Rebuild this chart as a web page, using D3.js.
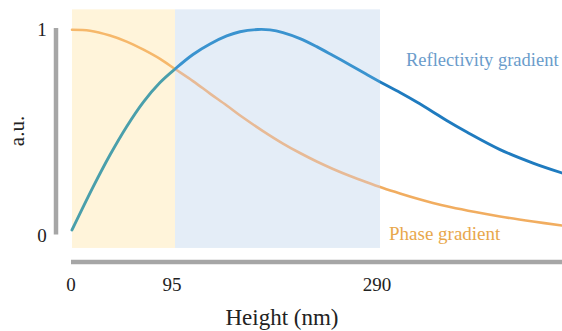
<!DOCTYPE html>
<html>
<head>
<meta charset="utf-8">
<script src="https://cdn.jsdelivr.net/npm/d3@7"></script>
<style>
  html, body { margin: 0; padding: 0; background: #fff; }
  svg { display: block; }
  text { font-family: "Liberation Serif", "DejaVu Serif", serif; }
</style>
</head>
<body>
<svg id="chart" width="562" height="331"></svg>
<script>
// Height in nm, normalised magnitude (a.u.)
const reflectivityHeight = [0, 19.6, 35, 50.5, 65.8, 81.2, 95, 112.1, 128.3, 144.2, 156.8, 173.9, 185.3, 197.7, 213.9, 229.8, 245.3, 261.5, 276.7, 292.9, 309.2, 325.3, 340.9, 354.1, 373.4, 405.4, 437.1, 465];
const reflectivityValue  = [0.005, 0.22, 0.377, 0.519, 0.640, 0.737, 0.804, 0.876, 0.928, 0.968, 0.989, 1.0, 0.998, 0.985, 0.955, 0.915, 0.871, 0.824, 0.779, 0.732, 0.687, 0.640, 0.591, 0.548, 0.491, 0.404, 0.337, 0.288];

const phaseHeight = [0, 16.6, 35, 50.4, 65.5, 81.2, 95, 112.1, 128.3, 144.2, 159.7, 178.7, 197.7, 213.9, 229.8, 245.3, 261.5, 276.7, 292.9, 309.2, 325.3, 340.9, 357.5, 381.6, 405.4, 437.1, 465];
const phaseValue  = [0.999, 0.994, 0.970, 0.940, 0.901, 0.854, 0.804, 0.744, 0.682, 0.623, 0.563, 0.496, 0.434, 0.387, 0.345, 0.308, 0.273, 0.243, 0.213, 0.186, 0.161, 0.139, 0.119, 0.094, 0.072, 0.047, 0.027];

// Height regions: [start, end]
const regionStart = [0, 95];
const regionEnd   = [95, 290];
const regionFill  = ["#fff4da", "#e4edf7"];

const xTicks = [0, 95, 290];
const yTicks = [0, 1];

const svg = d3.select("#chart");

// Axis break points at the region edges
const x = d3.scaleLinear().domain([0, 95, 290, 465]).range([72, 175, 380, 562]);
const y = d3.scaleLinear().domain([0, 1]).range([231, 29.5]);

// Shaded height regions
svg.append("g").selectAll("rect")
  .data(regionStart.map((s, i) => ({ s, e: regionEnd[i], fill: regionFill[i] })))
  .join("rect")
  .attr("x", d => x(d.s))
  .attr("width", d => x(d.e) - x(d.s))
  .attr("y", y(1.1))
  .attr("height", y(-0.084) - y(1.1))
  .attr("fill", d => d.fill);

// Stroke colour shifts per region
const defs = svg.append("defs");
function regionGradient(id, colors) {
  const g = defs.append("linearGradient")
    .attr("id", id)
    .attr("gradientUnits", "userSpaceOnUse")
    .attr("x1", x(0)).attr("x2", x(465))
    .attr("y1", 0).attr("y2", 0);
  const span = x(465) - x(0);
  const b1 = (x(95) - x(0)) / span;
  const b2 = (x(290) - x(0)) / span;
  [[0, colors[0]], [b1, colors[0]], [b1, colors[1]], [b2, colors[1]], [b2, colors[2]], [1, colors[2]]]
    .forEach(([o, c]) => g.append("stop").attr("offset", o).attr("stop-color", c));
}
regionGradient("reflGrad", ["#4a9fab", "#3a93cf", "#1f7bbf"]);
regionGradient("phaseGrad", ["#f6b86b", "#e7ba96", "#f1ad60"]);

const line = d3.line()
  .x(d => x(d[0]))
  .y(d => y(d[1]))
  .curve(d3.curveCatmullRom.alpha(0.5));

svg.append("path")
  .datum(phaseHeight.map((h, i) => [h, phaseValue[i]]))
  .attr("d", line)
  .attr("fill", "none")
  .attr("stroke", "url(#phaseGrad)")
  .attr("stroke-width", 2.6)
  .attr("stroke-linecap", "round");

svg.append("path")
  .datum(reflectivityHeight.map((h, i) => [h, reflectivityValue[i]]))
  .attr("d", line)
  .attr("fill", "none")
  .attr("stroke", "url(#reflGrad)")
  .attr("stroke-width", 2.9)
  .attr("stroke-linecap", "round");

// Axis bars
svg.append("line")
  .attr("x1", 56).attr("x2", 56)
  .attr("y1", y(1) - 1.5).attr("y2", y(0) + 3.5)
  .attr("stroke", "#a6a6a6").attr("stroke-width", 4.5);

svg.append("line")
  .attr("x1", x(0) - 1).attr("x2", 562)
  .attr("y1", 262).attr("y2", 262)
  .attr("stroke", "#a6a6a6").attr("stroke-width", 4.5);

// Tick labels
svg.append("g").selectAll("text")
  .data(yTicks)
  .join("text")
  .attr("x", 42)
  .attr("y", d => y(d) + (d === 0 ? 11 : 6))
  .attr("text-anchor", "middle")
  .attr("font-size", 19)
  .attr("fill", "#222")
  .text(d => d);

svg.append("g").selectAll("text")
  .data(xTicks)
  .join("text")
  .attr("x", d => x(d) - (d === 0 ? 1 : 3))
  .attr("y", 291)
  .attr("text-anchor", "middle")
  .attr("font-size", 19)
  .attr("fill", "#222")
  .text(d => d);

// Axis titles
svg.append("text")
  .attr("transform", "translate(24,131) rotate(-90)")
  .attr("text-anchor", "middle")
  .attr("font-size", 21)
  .attr("fill", "#222")
  .text("a.u.");

svg.append("text")
  .attr("x", 282)
  .attr("y", 325)
  .attr("text-anchor", "middle")
  .attr("font-size", 23)
  .attr("fill", "#222")
  .text("Height (nm)");

// Series labels
svg.append("text")
  .attr("x", 406)
  .attr("y", 66)
  .attr("font-size", 18.5)
  .attr("fill", "#6a9ccb")
  .text("Reflectivity gradient");

svg.append("text")
  .attr("x", 389)
  .attr("y", 240)
  .attr("font-size", 19)
  .attr("fill", "#e8a74c")
  .text("Phase gradient");
</script>
</body>
</html>
